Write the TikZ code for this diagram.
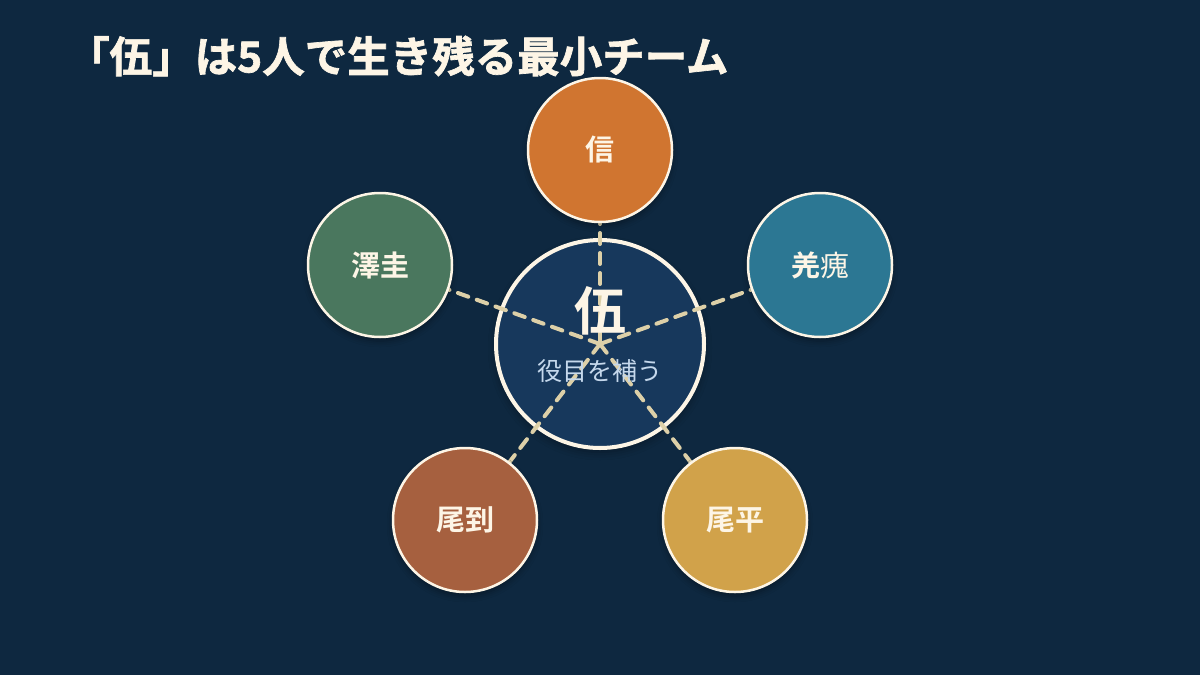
\documentclass[tikz,border=0pt]{standalone}
\usepackage{fontspec}
\newfontfamily\jp{Noto Sans CJK JP}[BoldFont={* Bold}]
\newfontfamily\jpheavy{Noto Sans CJK JP}[UprightFont={* Bold}, FakeBold=1.6]
\usetikzlibrary{shadows.blur}
\definecolor{bg}{HTML}{0E2840}
\definecolor{centerfill}{HTML}{17385C}
\definecolor{cream}{HTML}{FDF5E6}
\definecolor{dashcol}{HTML}{DDD0A8}
\definecolor{subcol}{HTML}{C5D8EC}
\definecolor{cOrange}{HTML}{D07530}
\definecolor{cTeal}{HTML}{2C7793}
\definecolor{cGreen}{HTML}{4A775E}
\definecolor{cBrown}{HTML}{A6603F}
\definecolor{cGold}{HTML}{D1A24A}
\tikzset{
  member/.style={circle, draw=cream, line width=2.5pt, minimum size=144pt, inner sep=0pt,
    text=cream, font=\jp\bfseries\fontsize{29}{32}\selectfont,
    blur shadow={shadow xshift=0pt, shadow yshift=-4pt, shadow blur radius=6pt, shadow opacity=35}},
  hub/.style={circle, draw=cream, line width=4pt, fill=centerfill, minimum size=208pt, inner sep=0pt,
    blur shadow={shadow xshift=0pt, shadow yshift=-4pt, shadow blur radius=8pt, shadow opacity=35}},
  link/.style={draw=dashcol, line width=4pt, dash pattern=on 11pt off 9pt, line cap=round},
}
\begin{document}
\begin{tikzpicture}[x=1pt,y=-1pt]
\fill[bg] (0,0) rectangle (1200,675);
\useasboundingbox (0,0) rectangle (1200,675);
\node[anchor=west, text=cream, font=\jpheavy\fontsize{42.5}{46}\selectfont, inner sep=0pt] (title) at (67,56) {「伍」は5人で生き残る最小チーム};
\node[hub] (hub) at (600,344) {};
\coordinate (c) at (600,344);
\coordinate (pT) at (600,150);
\coordinate (pL) at (380,265);
\coordinate (pR) at (820,265);
\coordinate (pBL) at (465,520);
\coordinate (pBR) at (735,520);
\draw[link] (c) -- (pT);
\draw[link] (c) -- (pL);
\draw[link] (c) -- (pR);
\draw[link] (c) -- (pBL);
\draw[link] (c) -- (pBR);
\node[text=cream, font=\jp\bfseries\fontsize{52}{56}\selectfont] (wu) at (600,311) {伍};
\node[text=subcol, font=\jp\fontsize{25}{28}\selectfont] (sub) at (600,371) {役目を補う};
\node[member, fill=cOrange] (shin) at (pT) {信};
\node[member, fill=cGreen] (taku) at (pL) {澤圭};
\node[member, fill=cTeal] (kyo) at (pR) {羌{\mdseries 瘣}};
\node[member, fill=cBrown] (bito) at (pBL) {尾到};
\node[member, fill=cGold] (bihei) at (pBR) {尾平};
\end{tikzpicture}
\end{document}
